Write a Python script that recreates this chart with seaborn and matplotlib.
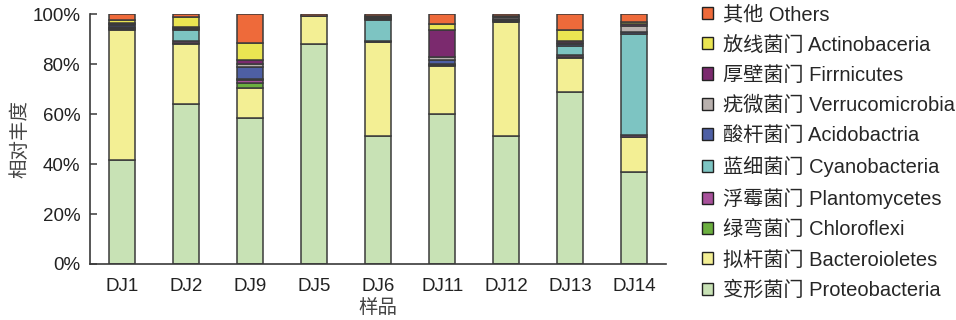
import matplotlib
matplotlib.use("Agg")
import matplotlib.pyplot as plt
import numpy as np
import pandas as pd
import seaborn as sns
from matplotlib.patches import Patch
from matplotlib.ticker import MultipleLocator, PercentFormatter

# samples along the x axis
samples = ["DJ1", "DJ2", "DJ9", "DJ5", "DJ6", "DJ11", "DJ12", "DJ13", "DJ14"]

# relative abundance (%) per phylum, one value per sample
proteobacteria = [41.6, 64.0, 58.3, 88.0, 51.2, 60.0, 51.2, 68.7, 36.8]
bacteroidetes = [52.0, 24.0, 12.0, 11.3, 37.5, 19.2, 45.5, 13.8, 13.9]
chloroflexi = [0.4, 0.3, 2.2, 0.0, 0.3, 0.3, 0.3, 0.4, 0.2]
plantomycetes = [0.4, 0.9, 1.2, 0.0, 0.2, 0.4, 0.2, 0.6, 0.6]
cyanobacteria = [0.6, 4.4, 0.3, 0.0, 8.4, 0.3, 0.6, 3.8, 40.4]
acidobacteria = [0.6, 0.4, 4.8, 0.0, 0.6, 1.4, 0.4, 0.6, 1.0]
verrucomicrobia = [0.3, 0.5, 1.4, 0.0, 0.2, 1.4, 0.6, 0.5, 2.2]
firmicutes = [0.6, 0.3, 1.6, 0.0, 0.4, 10.6, 0.2, 0.7, 1.0]
actinobacteria = [1.0, 4.2, 6.5, 0.0, 0.4, 2.4, 0.1, 4.6, 0.6]
others = [2.5, 1.0, 11.7, 0.7, 0.8, 4.0, 0.9, 6.3, 3.3]

# legend order, top to bottom (= stack order, top to bottom)
labels = [
    "其他 Others",
    "放线菌门 Actinobaceria",
    "厚壁菌门 Firrnicutes",
    "疣微菌门 Verrucomicrobia",
    "酸杆菌门 Acidobactria",
    "蓝细菌门 Cyanobacteria",
    "浮霉菌门 Plantomycetes",
    "绿弯菌门 Chloroflexi",
    "拟杆菌门 Bacteroioletes",
    "变形菌门 Proteobacteria",
]
series = [others, actinobacteria, firmicutes, verrucomicrobia, acidobacteria,
          cyanobacteria, plantomycetes, chloroflexi, bacteroidetes, proteobacteria]
colors = ["#EE6A3A", "#EAE552", "#7B2A6E", "#B9B1AE", "#4E5FA4",
          "#7DC4C2", "#A8519B", "#6BAF3F", "#F3EF94", "#C8E2B5"]

df = pd.DataFrame(
    [(s, lab, v) for lab, vals in zip(labels, series) for s, v in zip(samples, vals)],
    columns=["sample", "phylum", "abundance"],
)

sns.set_style("white")
plt.rcParams["font.family"] = ["Liberation Sans", "Noto Sans CJK SC", "DejaVu Sans"]

edge = "#3a3a3a"
fig = plt.figure(figsize=(9.56, 3.2), dpi=100)
ax = fig.add_axes([0.094, 0.175, 0.603, 0.781])

sns.histplot(
    data=df, x="sample", weights="abundance", hue="phylum",
    hue_order=labels, palette=colors, multiple="stack", discrete=True,
    shrink=0.41, alpha=1, edgecolor=edge, linewidth=1.1, legend=False, ax=ax,
)

ax.set_xlim(-0.5, len(samples) - 0.5)
ax.set_ylim(0, 100)
ax.yaxis.set_major_locator(MultipleLocator(20))
ax.yaxis.set_major_formatter(PercentFormatter(decimals=0))
ax.set_xticks(range(len(samples)))
ax.set_xticklabels(samples)
ax.set_xticks(np.arange(0.5, len(samples)), minor=True)
ax.tick_params(axis="x", which="major", length=0, pad=10, labelsize=13.5, colors="#222222")
ax.tick_params(axis="x", which="minor", direction="in", length=5, width=1.1, color=edge)
ax.tick_params(axis="y", direction="in", length=5, width=1.1, color=edge, pad=7,
               labelsize=13.5, labelcolor="#222222", left=True)

for side in ["top", "right"]:
    ax.spines[side].set_visible(False)
for side in ["left", "bottom"]:
    ax.spines[side].set_color(edge)
    ax.spines[side].set_linewidth(1.2)

ax.set_xlabel("样品", fontsize=14, color="#444444", labelpad=3)
ax.set_ylabel("相对丰度", fontsize=14, color="#444444", labelpad=2)

handles = [Patch(facecolor=c, edgecolor="#222222", linewidth=1.0) for c in colors]
fig.legend(
    handles, labels, loc="upper left", bbox_to_anchor=(0.734, 0.983),
    frameon=False, fontsize=14.5, handlelength=0.55, handleheight=0.55,
    handletextpad=0.5, labelspacing=0.55, borderpad=0.0, borderaxespad=0.0,
)

fig.savefig("out.png", dpi=100)
